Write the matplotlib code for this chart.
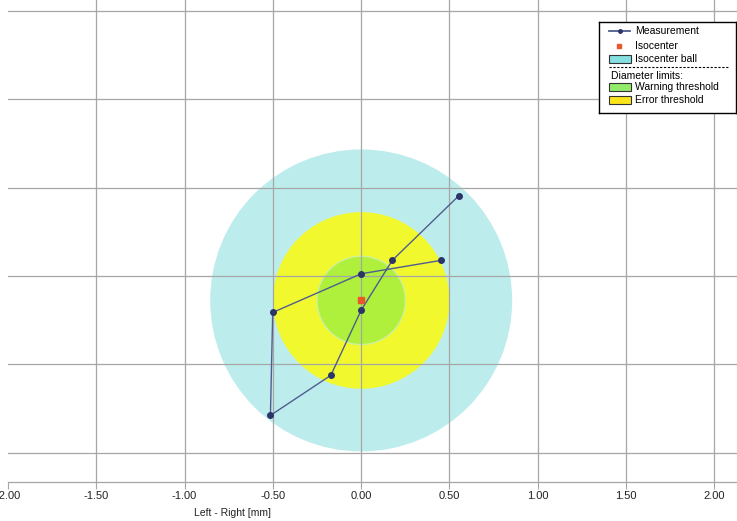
import numpy as np
import matplotlib.pyplot as plt
from matplotlib.patches import Circle, Rectangle
from matplotlib.lines import Line2D

plt.rcParams["font.family"] = ["Liberation Sans", "DejaVu Sans"]
plt.rcParams["axes.unicode_minus"] = False

# measurement path (mm), in drawing order
MEAS_X = [0.551, 0.176, 0.000, -0.172, -0.514, -0.501, 0.000, 0.453]
MEAS_Y = [0.453, 0.089, -0.193, -0.562, -0.789, -0.206, 0.013, 0.089]

ISO_X = 0.0
ISO_Y = -0.138

BALL_R = 0.855
ERROR_R = 0.50
WARNING_R = 0.25

X_TICKS = [-2.0, -1.5, -1.0, -0.5, 0.0, 0.5, 1.0, 1.5, 2.0]
Y_GRID = [-1.0, -0.5, 0.0, 0.5, 1.0, 1.5]
X_LABEL = "Left - Right [mm]"

LEGEND_ITEMS = ["Measurement", "Isocenter", "Isocenter ball",
                "Diameter limits:", "Warning threshold", "Error threshold"]

C_BALL = "#bdeced"
C_ERROR = "#f1f92e"
C_WARN = "#aef03c"
C_LINE = "#4f5d8e"
C_MARK = "#2c3468"
C_ISO = "#e8582a"
C_GRID = "#a6a6a6"

W, H = 737, 521
fig = plt.figure(figsize=(W / 100, H / 100), dpi=100)
ax = fig.add_axes([8 / W, 1 - 482 / H, 1 - 8 / W, 482 / H])

ax.add_patch(Circle((ISO_X, ISO_Y), BALL_R, facecolor=C_BALL, edgecolor="none", zorder=1))
ax.add_patch(Circle((ISO_X, ISO_Y), ERROR_R, facecolor=C_ERROR, edgecolor="none", zorder=1.1))
ax.add_patch(Circle((ISO_X, ISO_Y), WARNING_R, facecolor=C_WARN, edgecolor="#cdf09a",
                    linewidth=1.0, zorder=1.2))

ax.plot(MEAS_X, MEAS_Y, color=C_LINE, linewidth=1.0, zorder=3)
ax.plot(MEAS_X, MEAS_Y, linestyle="", marker="o", markersize=4,
        color=C_MARK, zorder=4)
ax.plot([ISO_X], [ISO_Y], linestyle="", marker="s", markersize=4,
        color=C_ISO, zorder=5)

ax.set_xlim(-2.0, 2.128)
ax.set_ylim(-1.166, 1.563)

ax.set_xticks(X_TICKS)
ax.set_xticklabels([f"{v:.2f}" for v in X_TICKS], fontsize=8, color="#222222")
ax.set_yticks(Y_GRID)
ax.set_yticklabels([])
ax.tick_params(axis="x", length=5, color=C_GRID, pad=1.5)
ax.tick_params(axis="y", length=0)
ax.grid(True, color=C_GRID, linewidth=0.9)
ax.set_axisbelow(False)
for g in ax.get_xgridlines() + ax.get_ygridlines():
    g.set_zorder(2)
# the -2.00 gridline sits on the cropped left edge: not visible in the screenshot
ax.get_xgridlines()[0].set_visible(False)

for side in ["left", "top", "right"]:
    ax.spines[side].set_visible(False)
ax.spines["bottom"].set_color(C_GRID)
ax.spines["bottom"].set_linewidth(0.9)

ax.set_xlabel(X_LABEL, fontsize=7.5, color="#222222", va="center")
ax.xaxis.set_label_coords((233 - 8) / (W - 8), (482 - 513) / 482)

# legend box, laid out in pixel units
lx0, lx1, ly0, ly1 = 599, 736, 22, 113
lg = fig.add_axes([lx0 / W, 1 - ly1 / H, (lx1 - lx0) / W, (ly1 - ly0) / H])
lg.set_xlim(lx0, lx1)
lg.set_ylim(ly1, ly0)
lg.set_xticks([])
lg.set_yticks([])
lg.set_facecolor("white")
for s in lg.spines.values():
    s.set_color("black")
    s.set_linewidth(1.0)

tx = 635
fs = 7.5
lg.add_line(Line2D([609, 630], [31, 31], color=C_LINE, linewidth=1.3))
lg.plot([619.5], [31], marker="o", markersize=2.5, color=C_MARK)
lg.text(tx, 31, LEGEND_ITEMS[0], fontsize=fs, va="center")
lg.plot([619], [46], marker="s", markersize=3, color=C_ISO, linestyle="")
lg.text(tx, 46, LEGEND_ITEMS[1], fontsize=fs, va="center")
lg.add_patch(Rectangle((609, 55), 22, 8, facecolor="#86dfe0", edgecolor="#333333", linewidth=0.8))
lg.text(tx, 59, LEGEND_ITEMS[2], fontsize=fs, va="center")
lg.add_line(Line2D([609, 728], [67, 67], color="black", linewidth=0.8, linestyle=(0, (2, 1.5))))
lg.text(611, 76, LEGEND_ITEMS[3], fontsize=fs, va="center")
lg.add_patch(Rectangle((609, 83), 22, 8, facecolor="#92ec6a", edgecolor="#333333", linewidth=0.8))
lg.text(tx, 87, LEGEND_ITEMS[4], fontsize=fs, va="center")
lg.add_patch(Rectangle((609, 96), 22, 8, facecolor="#fbe41c", edgecolor="#333333", linewidth=0.8))
lg.text(tx, 100, LEGEND_ITEMS[5], fontsize=fs, va="center")

fig.savefig("out.png", dpi=100)
